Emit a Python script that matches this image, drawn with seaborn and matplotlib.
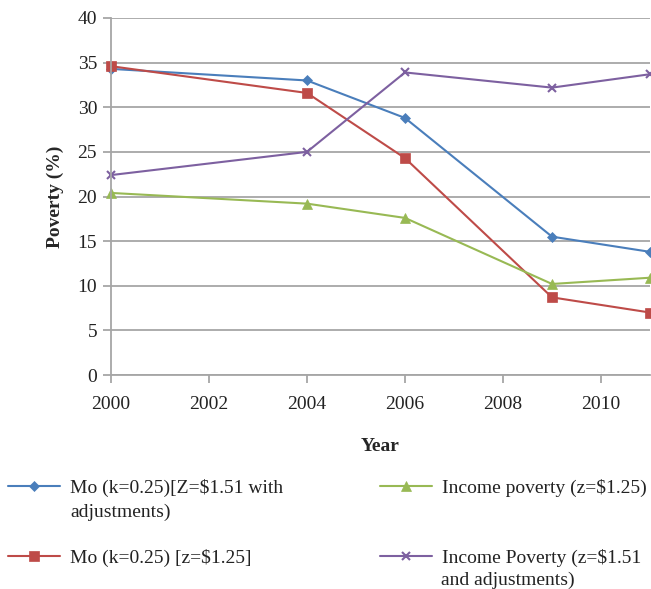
import pandas as pd
import matplotlib
matplotlib.use('Agg')
import matplotlib.pyplot as plt
import seaborn as sns

years = [2000, 2004, 2006, 2009, 2011]
mo_151 = [34.3, 33.0, 28.8, 15.5, 13.8]
mo_125 = [34.6, 31.6, 24.3, 8.7, 7.0]
inc_125 = [20.4, 19.2, 17.6, 10.2, 10.9]
inc_151 = [22.4, 25.0, 33.9, 32.2, 33.7]

labels = ['Mo (k=0.25)[Z=$1.51 with', 'Mo (k=0.25) [z=$1.25]',
          'Income poverty (z=$1.25)', 'Income Poverty (z=$1.51']
colors = ['#4A7EBB', '#BE4B48', '#98B954', '#7D60A0']
markers = ['D', 's', '^', 'x']
msizes = [5.5, 7, 7, 6]

sns.set_style('white')
plt.rcParams['font.family'] = ['Liberation Serif', 'DejaVu Serif']
plt.rcParams['text.color'] = '#222222'

fig = plt.figure(figsize=(6.51, 5.89), dpi=100)
ax = fig.add_axes([111/651, 1-375/589, (650-111)/651, (375-18)/589])

series = [mo_151, mo_125, inc_125, inc_151]
handles = []
for vals, lab, c, m, ms in zip(series, labels, colors, markers, msizes):
    df = pd.DataFrame({'Year': years, 'Poverty': vals})
    sns.lineplot(x='Year', y='Poverty', data=df, ax=ax, color=c, marker=m,
                 markersize=ms, markeredgecolor=c, markeredgewidth=1.5 if m == 'x' else 0.5,
                 linewidth=1.5, clip_on=False, label=lab, legend=False)
    handles.append(ax.lines[-1])

ax.set_xlim(2000, 2011)
ax.set_ylim(0, 40)
ax.set_xticks(range(2000, 2011, 2))
ax.set_yticks(range(0, 41, 5))
ax.yaxis.grid(True, color='#A6A6A6', linewidth=1.3)
ax.xaxis.grid(False)
ax.set_axisbelow(True)
for s in ['top', 'right']:
    ax.spines[s].set_visible(False)
for s in ['left', 'bottom']:
    ax.spines[s].set_color('#A6A6A6')
    ax.spines[s].set_linewidth(1.3)
ax.tick_params(axis='both', direction='out', length=6, width=1.3, color='#A6A6A6',
               labelsize=14, labelcolor='#222222')
ax.tick_params(axis='x', pad=9, bottom=True)
ax.tick_params(axis='y', pad=4, left=True)

ax.set_xlabel('Year', fontsize=14, fontweight='bold', labelpad=18)
ax.set_ylabel('Poverty (%)', fontsize=14, fontweight='bold', labelpad=10)

leg_kw = dict(loc='upper left', frameon=False, fontsize=14, handlelength=2.67,
              handletextpad=0.5, labelspacing=2.68, borderpad=0, borderaxespad=0)
fig.legend(handles[:2], labels[:2], bbox_to_anchor=(8/651, 1-479/589), **leg_kw)
fig.legend(handles[2:], labels[2:], bbox_to_anchor=(380/651, 1-479/589), **leg_kw)
fig.text(70/651, 1-512/589, 'adjustments)', fontsize=14, va='center')
fig.text(441/651, 1-580/589, 'and adjustments)', fontsize=14, va='center')

plt.savefig('out.png', dpi=100)
